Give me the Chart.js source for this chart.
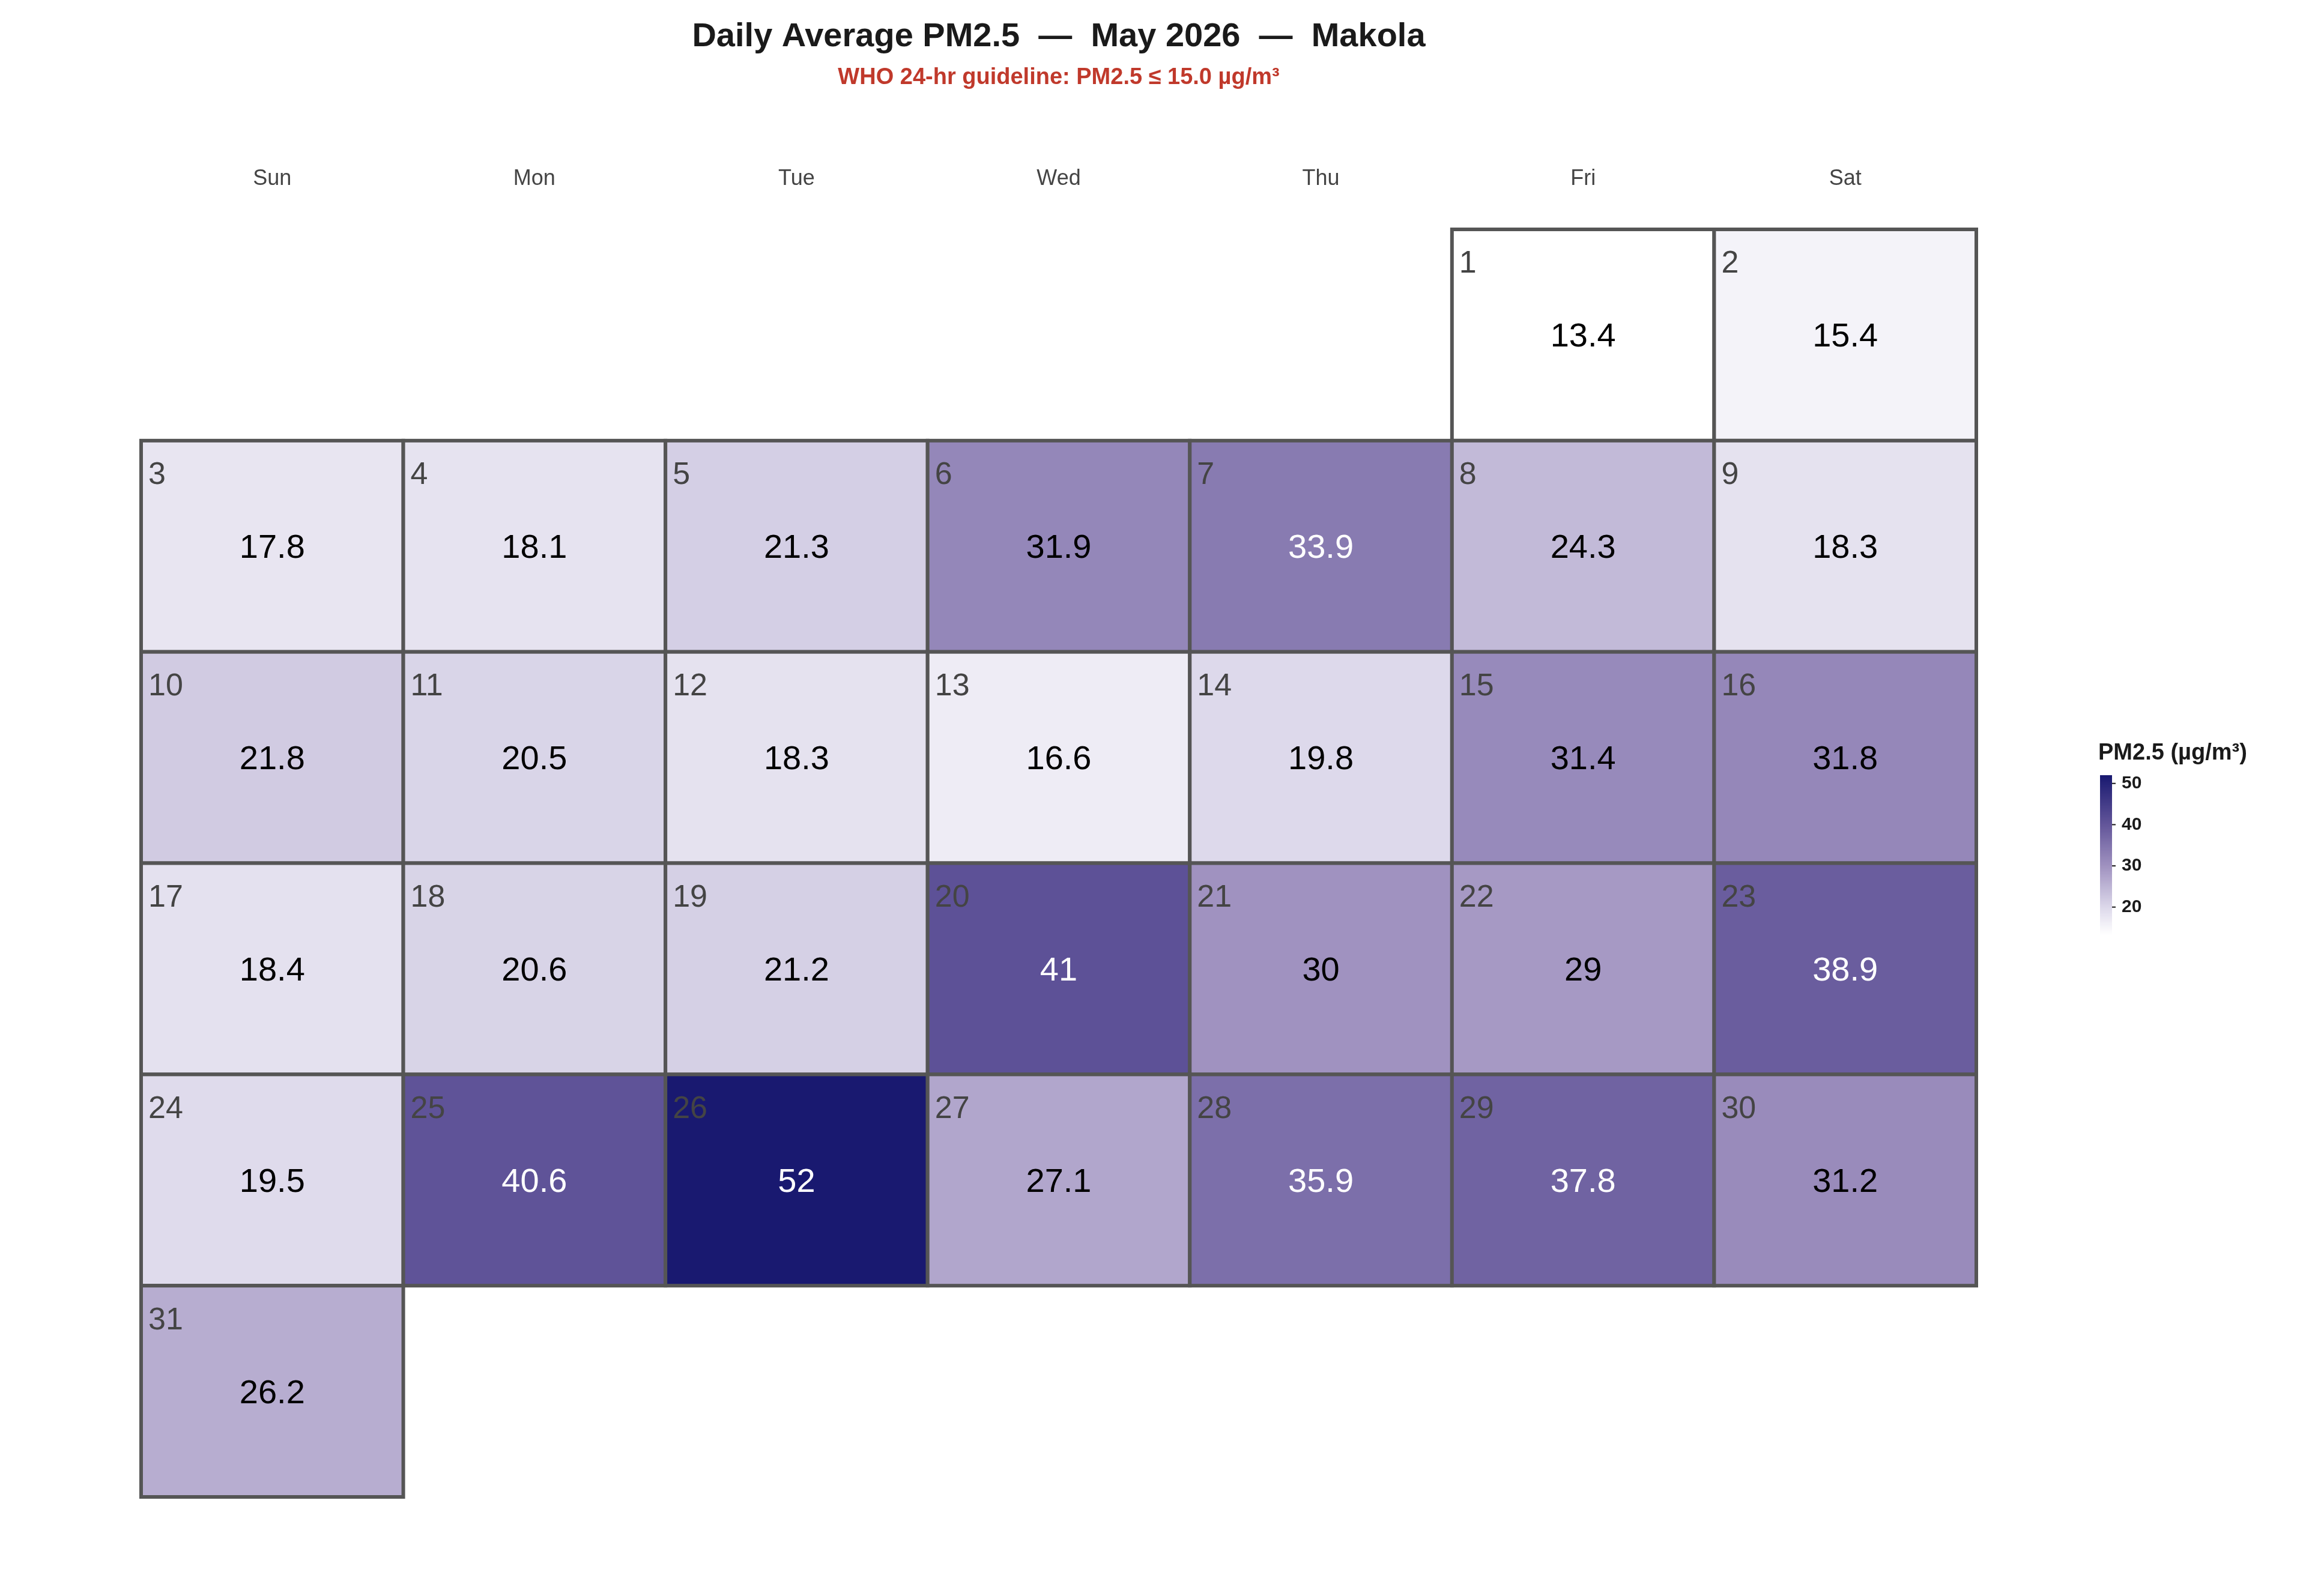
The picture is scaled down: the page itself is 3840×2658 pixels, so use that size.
<!DOCTYPE html>
<html><head><meta charset="utf-8">
<script src="https://cdn.jsdelivr.net/npm/chart.js"></script>
<style>body{margin:0;background:#fff}canvas{display:block}</style>
</head><body>
<canvas id="c" width="3840" height="2658"></canvas>
<script>
const weekdays = ['Sun','Mon','Tue','Wed','Thu','Fri','Sat']
const firstWeekday = 5 // May 1 2026 is a Friday
const pm25 = [13.4,15.4,17.8,18.1,21.3,31.9,33.9,24.3,18.3,21.8,20.5,18.3,16.6,19.8,31.4,31.8,
  18.4,20.6,21.2,41,30,29,38.9,19.5,40.6,52,27.1,35.9,37.8,31.2,26.2]
const valueLabels = ['13.4','15.4','17.8','18.1','21.3','31.9','33.9','24.3','18.3','21.8','20.5','18.3','16.6','19.8','31.4','31.8',
  '18.4','20.6','21.2','41','30','29','38.9','19.5','40.6','52','27.1','35.9','37.8','31.2','26.2']
const legendTicks = [20,30,40,50]
const vmin = 13.4, vmax = 52

const stops = [[13.4,[255,255,255]],[20,[220,216,234]],[30,[160,146,192]],[40,[99,86,154]],[52,[25,25,112]]]
function colorFor(v) {
    for (let i = 1; i < stops.length; i++) {
        if (v <= stops[i][0]) {
            const a = stops[i-1], b = stops[i], t = (v - a[0]) / (b[0] - a[0])
            const c = a[1].map((x, k) => Math.round(x + (b[1][k] - x) * t))
            return 'rgb(' + c.join(',') + ')'
        }
    }
    return 'rgb(25,25,112)'
}

const cells = pm25.map((v, i) => {
    const idx = i + firstWeekday
    return {x: idx % 7 + 0.5, y: Math.floor(idx / 7) + 0.5, v: v, day: i + 1, label: valueLabels[i]}
})

const calendar = {
    id: 'calendar',
    afterDatasetsDraw(chart) {
        const ctx = chart.ctx, xs = chart.scales.x, ys = chart.scales.y
        ctx.save()
        // cells
        cells.forEach(c => {
            const x0 = xs.getPixelForValue(c.x - 0.5), x1 = xs.getPixelForValue(c.x + 0.5)
            const y0 = ys.getPixelForValue(c.y - 0.5), y1 = ys.getPixelForValue(c.y + 0.5)
            ctx.fillStyle = colorFor(c.v)
            ctx.fillRect(x0, y0, x1 - x0, y1 - y0)
            ctx.strokeStyle = '#555555'
            ctx.lineWidth = 6
            ctx.strokeRect(x0, y0, x1 - x0, y1 - y0)
            ctx.fillStyle = '#444444'
            ctx.font = '52px "Liberation Sans", Arial, sans-serif'
            ctx.textAlign = 'left'; ctx.textBaseline = 'middle'
            ctx.fillText(String(c.day), x0 + 12, y0 + 58)
            ctx.fillStyle = c.v > 33 ? '#ffffff' : '#000000'
            ctx.font = '56px "Liberation Sans", Arial, sans-serif'
            ctx.textAlign = 'center'
            ctx.fillText(c.label, (x0 + x1) / 2, y0 + 180)
        })
        // weekday headers
        ctx.fillStyle = '#444444'
        ctx.font = '36px "Liberation Sans", Arial, sans-serif'
        ctx.textAlign = 'center'
        weekdays.forEach((d, i) => ctx.fillText(d, xs.getPixelForValue(i + 0.5), 298))
        // titles
        ctx.fillStyle = '#1a1a1a'
        ctx.font = 'bold 56px "Liberation Sans", Arial, sans-serif'
        ctx.fillText('Daily Average PM2.5  —  May 2026  —  Makola', 1763, 62)
        ctx.fillStyle = '#c0392b'
        ctx.font = 'bold 38px "Liberation Sans", Arial, sans-serif'
        ctx.fillText('WHO 24-hr guideline: PM2.5 ≤ 15.0 µg/m³', 1763, 130)
        // colorbar
        const bx = 3497, bw = 20, top = 1291, bot = 1556
        const yv = v => bot - (v - vmin) / (vmax - vmin) * (bot - top)
        for (let y = top; y < bot; y++) {
            const v = vmin + (bot - y) / (bot - top) * (vmax - vmin)
            ctx.fillStyle = colorFor(v)
            ctx.fillRect(bx, y, bw, 1.5)
        }
        ctx.fillStyle = '#1a1a1a'
        ctx.font = 'bold 38px "Liberation Sans", Arial, sans-serif'
        ctx.textAlign = 'left'
        ctx.fillText('PM2.5 (µg/m³)', 3494, 1255)
        ctx.font = 'bold 30px "Liberation Sans", Arial, sans-serif'
        legendTicks.forEach(t => {
            ctx.fillStyle = '#1a1a1a'
            ctx.fillRect(bx + bw, yv(t) - 1, 6, 2)
            ctx.fillText(String(t), bx + bw + 16, yv(t))
        })
        ctx.restore()
    }
}

new Chart(document.getElementById('c'), {
    type: 'scatter',
    data: {datasets: [{data: cells, pointRadius: 0}]},
    options: {
        responsive: false, animation: false, devicePixelRatio: 1,
        layout: {padding: {left: 235, right: 549, top: 382, bottom: 165}},
        plugins: {legend: {display: false}, tooltip: {enabled: false}},
        scales: {
            x: {type: 'linear', min: 0, max: 7, display: false},
            y: {type: 'linear', min: 0, max: 6, reverse: true, display: false}
        }
    },
    plugins: [calendar]
})
</script>
</body></html>
